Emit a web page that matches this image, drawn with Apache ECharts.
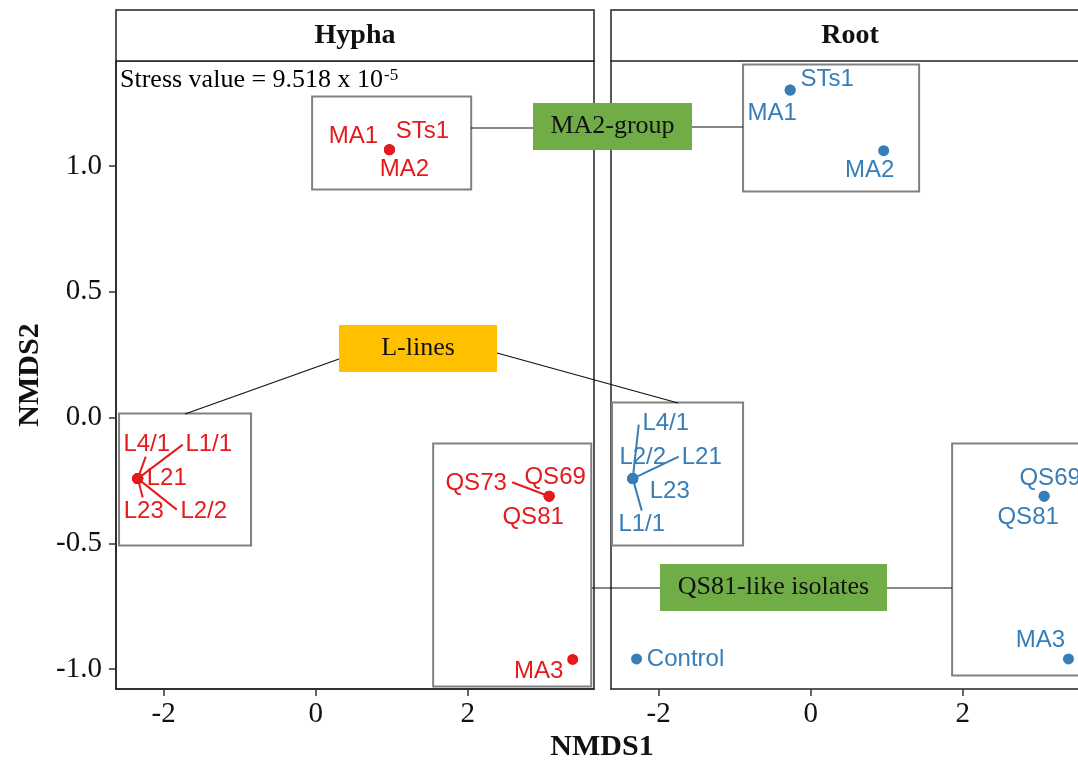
<!DOCTYPE html>
<html><head><meta charset="utf-8">
<script src="https://cdn.jsdelivr.net/npm/echarts@6/dist/echarts.min.js"></script>
<style>html,body{margin:0;padding:0;background:#fff}#c{width:1078px;height:762px}</style>
</head><body><div id="c"></div><script>
// ---------- data ----------
const panelTitles = ['Hypha', 'Root'];
const hyphaNames = ['MA1','STs1','MA2','L4/1','L1/1','L21','L23','L2/2','QS73','QS69','QS81','MA3'];
const hyphaX = [0.97, 0.97, 0.97, -2.34, -2.34, -2.34, -2.34, -2.34, 3.07, 3.07, 3.07, 3.38];
const hyphaY = [1.065, 1.065, 1.065, -0.243, -0.243, -0.243, -0.243, -0.243, -0.313, -0.313, -0.313, -0.962];
const rootNames = ['STs1','MA1','MA2','L4/1','L2/2','L21','L23','L1/1','QS69','QS81','MA3','Control'];
const rootX = [-0.27, -0.27, 0.96, -2.34, -2.34, -2.34, -2.34, -2.34, 3.07, 3.07, 3.39, -2.29];
const rootY = [1.302, 1.302, 1.061, -0.243, -0.243, -0.243, -0.243, -0.243, -0.313, -0.313, -0.96, -0.96];
const xTicks = [-2, 0, 2];
const yTicks = [-1.0, -0.5, 0.0, 0.5, 1.0];
const groupLabels = ['MA2-group', 'L-lines', 'QS81-like isolates'];
const stressText = 'Stress value = 9.518 x 10';
const stressExp = '-5';

// ---------- label placement (pixel offsets from point; seg = leader-line end) ----------
const labelPos = {
  Hypha: {
    'MA1': {o: [-36, -13]}, 'STs1': {o: [33, -18]}, 'MA2': {o: [15, 20]},
    'L4/1': {o: [9, -34], seg: [8, -22]}, 'L1/1': {o: [71, -34], seg: [45, -34]},
    'L21': {o: [29, 0]}, 'L23': {o: [6, 33], seg: [5, 19]}, 'L2/2': {o: [66, 33], seg: [39, 31]},
    'QS73': {o: [-73, -13], seg: [-37, -14]}, 'QS69': {o: [6, -19]}, 'QS81': {o: [-16, 21]},
    'MA3': {o: [-34, 12]}
  },
  Root: {
    'STs1': {o: [37, -11]}, 'MA1': {o: [-18, 23]}, 'MA2': {o: [-14, 20]},
    'L4/1': {o: [33, -55], seg: [6, -54]}, 'L2/2': {o: [10, -21]}, 'L21': {o: [69, -21], seg: [46, -22]},
    'L23': {o: [37, 13]}, 'L1/1': {o: [9, 46], seg: [9, 32]},
    'QS69': {o: [6, -18]}, 'QS81': {o: [-16, 21]}, 'MA3': {o: [-28, -19]}, 'Control': {o: [49, 0]}
  }
};
// annotation boxes in data coordinates [x1, y1, x2, y2]
const boxes = {
  Hypha: [[-0.047, 1.276, 2.045, 0.907], [-2.586, 0.016, -0.85, -0.509], [1.545, -0.103, 3.624, -1.07]],
  Root:  [[-0.889, 1.404, 1.426, 0.899], [-2.613, 0.06, -0.889, -0.509], [1.86, -0.103, 4.2, -1.026]]
};

const RED = '#E41A1C', BLUE = '#377EB8';
const SERIF = '"Liberation Serif", "Times New Roman", serif';
const SANS = '"Liberation Sans", Arial, sans-serif';
const W = 1078;
const GRID_TOP = 61, GRID_H = 628, GRID_W = 478;
const lefts = [116, 611];
const XMIN = -2.626, XMAX = 3.66, YMIN = -1.0795, YMAX = 1.4175;
const pxPerUnit = GRID_W / (XMAX - XMIN);
// Root panel is cut by the right edge of the picture: keep the same scale on the visible part
const widths = [GRID_W, W - lefts[1]];
const xMaxes = [XMAX, XMIN + widths[1] / pxPerUnit];

const chart = echarts.init(document.getElementById('c'), null, {renderer: 'canvas'});

function scatterData(names, xs, ys, panel) {
  return names.map((n, i) => ({name: n, value: [xs[i], ys[i]], label: {offset: labelPos[panel][n].o}}));
}
function segData(names, xs, ys, panel) {
  const out = [];
  names.forEach((n, i) => { const s = labelPos[panel][n].seg; if (s) out.push([xs[i], ys[i], s[0], s[1]]); });
  return out;
}

const panels = [
  {title: 'Hypha', names: hyphaNames, xs: hyphaX, ys: hyphaY, color: RED},
  {title: 'Root', names: rootNames, xs: rootX, ys: rootY, color: BLUE}
];

const grids = lefts.map((l, i) => ({left: l, top: GRID_TOP, width: widths[i], height: GRID_H,
  show: i === 0, borderColor: '#222', borderWidth: 1.5, backgroundColor: '#fff', containLabel: false}));

const xAxes = lefts.map((l, i) => ({
  gridIndex: i, type: 'value', min: XMIN, max: xMaxes[i], splitLine: {show: false},
  axisLine: {show: true, onZero: false, lineStyle: {color: '#222', width: 1.5}},
  axisTick: {show: true, customValues: xTicks, length: 7, lineStyle: {color: '#333', width: 1.5}},
  axisLabel: {customValues: xTicks, fontSize: 29, fontFamily: SERIF, color: '#111', margin: 11,
    formatter: v => String(v)}
}));
const yAxes = lefts.map((l, i) => ({
  gridIndex: i, type: 'value', min: YMIN, max: YMAX, splitLine: {show: false},
  axisLine: {show: true, onZero: false, lineStyle: {color: '#222', width: 1.5}},
  axisTick: {show: i === 0, customValues: yTicks, length: 7, lineStyle: {color: '#333', width: 1.5}},
  axisLabel: {show: i === 0, customValues: yTicks, fontSize: 29, fontFamily: SERIF, color: '#111', margin: 14,
    formatter: v => v.toFixed(1)}
}));

const series = [];
panels.forEach((p, i) => {
  series.push({
    type: 'custom', xAxisIndex: i, yAxisIndex: i, silent: true, z: 2, clip: false,
    data: boxes[p.title],
    encode: {x: [0, 2], y: [1, 3]},
    renderItem: (params, api) => {
      const a = api.coord([api.value(0), api.value(1)]);
      const b = api.coord([api.value(2), api.value(3)]);
      return {type: 'rect', shape: {x: Math.min(a[0], b[0]), y: Math.min(a[1], b[1]),
        width: Math.abs(b[0] - a[0]), height: Math.abs(b[1] - a[1])},
        style: {fill: 'none', stroke: '#808080', lineWidth: 2}};
    }
  });
  series.push({
    type: 'custom', xAxisIndex: i, yAxisIndex: i, silent: true, z: 3,
    data: segData(p.names, p.xs, p.ys, p.title),
    encode: {x: 0, y: 1},
    renderItem: (params, api) => {
      const a = api.coord([api.value(0), api.value(1)]);
      return {type: 'line', shape: {x1: a[0], y1: a[1], x2: a[0] + api.value(2), y2: a[1] + api.value(3)},
        style: {stroke: p.color, lineWidth: 2}};
    }
  });
  series.push({
    type: 'scatter', xAxisIndex: i, yAxisIndex: i, z: 4, symbolSize: 11, clip: false,
    itemStyle: {color: p.color, opacity: 1},
    data: scatterData(p.names, p.xs, p.ys, p.title),
    label: {show: true, position: 'inside', formatter: '{b}', color: p.color, fontSize: 24,
      fontFamily: SANS, align: 'center', verticalAlign: 'middle'},
    emphasis: {disabled: true}
  });
});

// measure stress text width
const mctx = document.createElement('canvas').getContext('2d');
mctx.font = '26px ' + SERIF;
const stressW = mctx.measureText(stressText).width;

const graphic = [];
panelTitles.forEach((t, i) => {
  graphic.push({type: 'rect', z: 10, shape: {x: lefts[i], y: 10, width: GRID_W, height: 51},
    style: {fill: '#fff', stroke: '#222', lineWidth: 1.5}});
  graphic.push({type: 'text', z: 11, x: lefts[i] + GRID_W / 2, y: 36,
    style: {text: t, font: 'bold 28px ' + SERIF, fill: '#111', align: 'center', verticalAlign: 'middle'}});
});
graphic.push({type: 'text', z: 11, x: 120, y: 80,
  style: {text: stressText, font: '26px ' + SERIF, fill: '#000', align: 'left', verticalAlign: 'middle'}});
graphic.push({type: 'text', z: 11, x: 120 + stressW + 1, y: 76,
  style: {text: stressExp, font: '17px ' + SERIF, fill: '#000', align: 'left', verticalAlign: 'middle'}});
// axis titles
graphic.push({type: 'text', z: 11, x: 602, y: 747,
  style: {text: 'NMDS1', font: 'bold 30px ' + SERIF, fill: '#111', align: 'center', verticalAlign: 'middle'}});
graphic.push({type: 'text', z: 11, x: 30, y: 375, rotation: Math.PI / 2,
  style: {text: 'NMDS2', font: 'bold 30px ' + SERIF, fill: '#111', align: 'center', verticalAlign: 'middle'}});
// connectors
const conn = [[471, 128, 533, 128], [692, 127, 743, 127], [185, 414, 339, 359], [497, 353, 678, 403],
  [592, 588, 660, 588], [887, 588, 952, 588]];
conn.forEach(c => graphic.push({type: 'line', z: 12, shape: {x1: c[0], y1: c[1], x2: c[2], y2: c[3]},
  style: {stroke: '#111', lineWidth: 1.2}}));
// callout boxes
const callouts = [
  {r: [533, 103, 159, 47], fill: '#70AD47'},
  {r: [339, 325, 158, 47], fill: '#FFC000'},
  {r: [660, 564, 227, 47], fill: '#70AD47'}
];
callouts.forEach((c, i) => {
  graphic.push({type: 'rect', z: 13, shape: {x: c.r[0], y: c.r[1], width: c.r[2], height: c.r[3]},
    style: {fill: c.fill, stroke: 'none'}});
  graphic.push({type: 'text', z: 14, x: c.r[0] + c.r[2] / 2, y: c.r[1] + c.r[3] / 2,
    style: {text: groupLabels[i], font: '26px ' + SERIF, fill: '#111', align: 'center', verticalAlign: 'middle'}});
});

chart.setOption({
  animation: false,
  backgroundColor: '#fff',
  grid: grids, xAxis: xAxes, yAxis: yAxes, series: series, graphic: graphic
});
</script></body></html>
